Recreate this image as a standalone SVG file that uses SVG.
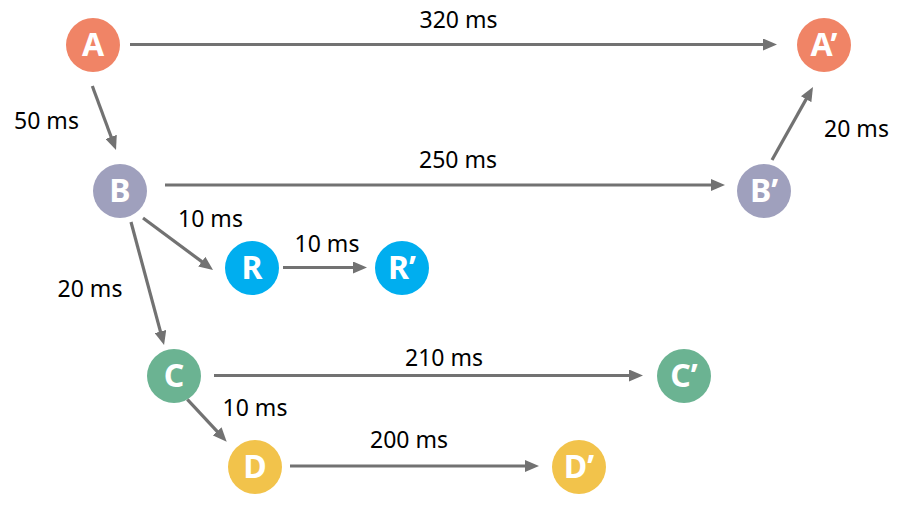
<svg xmlns="http://www.w3.org/2000/svg" width="904" height="510" viewBox="0 0 904 510">
<defs>
<style>
.lbl{font-family:"Noto Sans","Open Sans",sans-serif;font-size:23px;fill:#000}
.nt{font-family:"Noto Sans","Open Sans",sans-serif;font-size:32px;font-weight:bold;fill:#fff;text-anchor:middle}
.ln{stroke:#727272;stroke-width:3.2;fill:none;marker-end:url(#ah)}
</style>
<marker id="ah" viewBox="0 0 14 12" refX="3" refY="6" markerWidth="14" markerHeight="12" markerUnits="userSpaceOnUse" orient="auto">
<path d="M0,0 L14,6 L0,12 z" fill="#727272"/>
</marker>
</defs>
<rect width="904" height="510" fill="#fff"/>
<g id="connectors">
<line class="ln" x1="130" y1="44.5" x2="766" y2="44.5"/>
<line class="ln" x1="92.3" y1="86" x2="112.2" y2="139.7"/>
<line class="ln" x1="165" y1="185" x2="714" y2="185"/>
<line class="ln" x1="772" y1="160" x2="807.6" y2="96.6"/>
<line class="ln" x1="143" y1="218" x2="204.2" y2="263.4"/>
<line class="ln" x1="283" y1="267.5" x2="356" y2="267.5"/>
<line class="ln" x1="131" y1="222" x2="161.2" y2="334.4"/>
<line class="ln" x1="187.3" y1="399.3" x2="219.2" y2="433.6"/>
<line class="ln" x1="214" y1="375.5" x2="632" y2="375.5"/>
<line class="ln" x1="290" y1="466" x2="528" y2="466"/>
</g>
<g id="labels">
<text class="lbl" x="458.5" y="28" text-anchor="middle">320 ms</text>
<text class="lbl" x="46.5" y="129" text-anchor="middle">50 ms</text>
<text class="lbl" x="856.5" y="137" text-anchor="middle">20 ms</text>
<text class="lbl" x="458" y="168" text-anchor="middle">250 ms</text>
<text class="lbl" x="210.5" y="227" text-anchor="middle">10 ms</text>
<text class="lbl" x="327" y="252" text-anchor="middle">10 ms</text>
<text class="lbl" x="90" y="297" text-anchor="middle">20 ms</text>
<text class="lbl" x="444" y="366" text-anchor="middle">210 ms</text>
<text class="lbl" x="255" y="416" text-anchor="middle">10 ms</text>
<text class="lbl" x="409" y="448" text-anchor="middle">200 ms</text>
</g>
<g id="A"><circle cx="93" cy="45" r="27" fill="#F08466"/><text class="nt" x="93" y="56">A</text></g>
<g id="A2"><circle cx="824" cy="45" r="27" fill="#F08466"/><text class="nt" x="824" y="56">A’</text></g>
<g id="B"><circle cx="120" cy="191" r="27" fill="#9FA0BD"/><text class="nt" x="120" y="202">B</text></g>
<g id="B2"><circle cx="764" cy="191" r="27" fill="#9FA0BD"/><text class="nt" x="764" y="202">B’</text></g>
<g id="R"><circle cx="252" cy="268" r="27" fill="#00AEEF"/><text class="nt" x="252" y="279">R</text></g>
<g id="R2"><circle cx="402" cy="268" r="27" fill="#00AEEF"/><text class="nt" x="402" y="279">R’</text></g>
<g id="C"><circle cx="174" cy="376" r="27" fill="#6BB392"/><text class="nt" x="174" y="387">C</text></g>
<g id="C2"><circle cx="684" cy="376" r="27" fill="#6BB392"/><text class="nt" x="684" y="387">C’</text></g>
<g id="D"><circle cx="255" cy="467" r="27" fill="#F2C34B"/><text class="nt" x="255" y="478">D</text></g>
<g id="D2"><circle cx="579" cy="467" r="27" fill="#F2C34B"/><text class="nt" x="579" y="478">D’</text></g>
</svg>
